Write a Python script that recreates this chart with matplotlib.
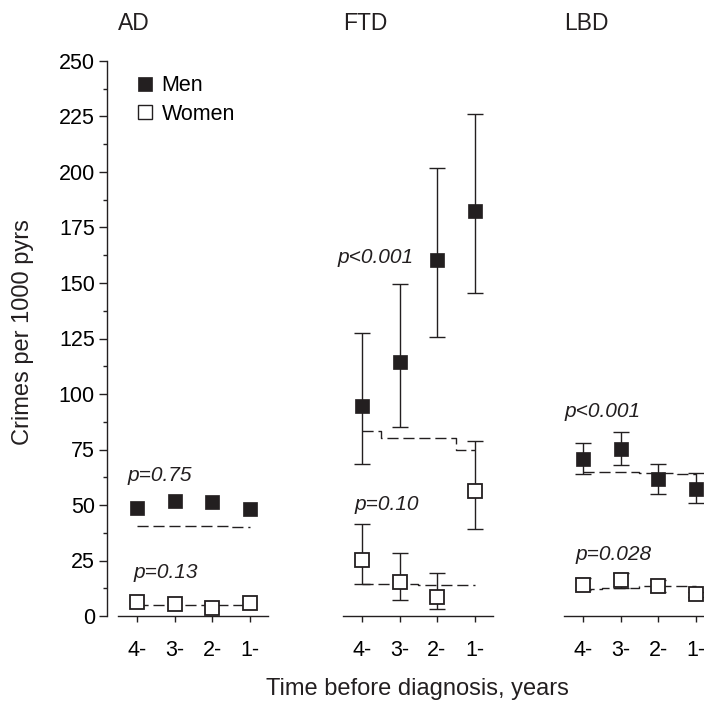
import matplotlib
matplotlib.use('Agg')
import matplotlib.pyplot as plt
from matplotlib.lines import Line2D
import numpy as np

plt.rcParams['font.family'] = ['Liberation Sans', 'DejaVu Sans']
plt.rcParams['font.size'] = 15.5

years = ['4-', '3-', '2-', '1-']
panels = ['AD', 'FTD', 'LBD']

# rates per 1000 person-years, with 95% CI where shown
men = {'AD': [48.5, 51.8, 51.2, 48.2],
       'FTD': [94.6, 114.3, 160.4, 182.4],
       'LBD': [70.7, 75.2, 61.6, 57.0]}
men_lo = {'AD': None,
          'FTD': [68.3, 85.3, 125.7, 145.4],
          'LBD': [64.0, 68.0, 55.0, 50.9]}
men_hi = {'AD': None,
          'FTD': [127.5, 149.5, 201.7, 226.0],
          'LBD': [78.0, 82.9, 68.3, 64.3]}
women = {'AD': [6.2, 5.4, 3.7, 5.7],
         'FTD': [25.2, 15.2, 8.4, 56.5],
         'LBD': [14.0, 16.2, 13.5, 9.8]}
women_lo = {'AD': None,
            'FTD': [14.3, 7.2, 3.0, 39.0],
            'LBD': [11.7, 12.5, 11.0, 8.5]}
women_hi = {'AD': None,
            'FTD': [41.3, 28.5, 19.5, 79.0],
            'LBD': [17.0, 19.5, 16.2, 11.0]}
# expected rates (dashed)
men_exp = {'AD': [40.5, 40.5, 40.5, 40.0],
           'FTD': [83.5, 80.0, 80.0, 75.0],
           'LBD': [65.0, 65.0, 64.5, 64.0]}
women_exp = {'AD': [4.8, 4.8, 4.8, 4.8],
             'FTD': [14.3, 14.3, 14.0, 13.8],
             'LBD': [12.0, 12.5, 13.5, 13.5]}
p_men = {'AD': 'p=0.75', 'FTD': 'p<0.001', 'LBD': 'p<0.001'}
p_women = {'AD': 'p=0.13', 'FTD': 'p=0.10', 'LBD': 'p=0.028'}

# text positions (data coords)
p_men_pos = {'AD': (-0.24, 63.5), 'FTD': (-0.64, 161.3), 'LBD': (-0.48, 92.3)}
p_women_pos = {'AD': (-0.1, 19.4), 'FTD': (-0.19, 50.0), 'LBD': (-0.19, 27.9)}

col = '#231f20'
W, H = 704, 703
fig = plt.figure(figsize=(W / 100, H / 100), dpi=100)

unit = 37.5
lefts = [137, 362, 583]
x0, x1 = -0.8, 3.6
ybot, ytop = 616, 61
x = np.arange(len(years))

for i, name in enumerate(panels):
    left_px = lefts[i] + x0 * unit
    ax = fig.add_axes([left_px / W, 1 - ybot / H, (x1 - x0) * unit / W, (ybot - ytop) / H])
    ax.set_xlim(x0, x1)
    ax.set_ylim(0, 250)
    ax.patch.set_alpha(0)
    for s in ['top', 'right']:
        ax.spines[s].set_visible(False)
    ax.spines['bottom'].set_bounds(-0.5, 3.5)
    ax.spines['bottom'].set_color(col)
    ax.spines['bottom'].set_linewidth(1.0)
    ax.set_xticks(x)
    ax.set_xticklabels(years)
    ax.tick_params(axis='x', direction='out', length=4.5, width=1.0, color=col, pad=13, labelsize=15.5)
    if i == 0:
        ax.spines['left'].set_color(col)
        ax.spines['left'].set_linewidth(1.0)
        ax.set_yticks(np.arange(0, 251, 25))
        ax.set_yticks(np.arange(12.5, 250, 25), minor=True)
        ax.tick_params(axis='y', which='major', direction='out', length=5.8, width=1.0, color=col, pad=3, labelsize=15.5)
        ax.tick_params(axis='y', which='minor', direction='out', length=3, width=1.0, color=col)
    else:
        ax.spines['left'].set_visible(False)
        ax.set_yticks([])

    ax.plot(x, men_exp[name], ls=(0, (8, 3.5)), lw=1.0, color=col, drawstyle='steps-mid', zorder=2)
    ax.plot(x, women_exp[name], ls=(0, (8, 3.5)), lw=1.0, color=col, drawstyle='steps-mid', zorder=2)

    if men_lo[name] is not None:
        m = np.array(men[name])
        err = [m - np.array(men_lo[name]), np.array(men_hi[name]) - m]
        ax.errorbar(x, m, yerr=err, fmt='none', ecolor=col, elinewidth=1.0, capsize=5.5, capthick=1.0, zorder=3)
        w = np.array(women[name])
        err = [w - np.array(women_lo[name]), np.array(women_hi[name]) - w]
        ax.errorbar(x, w, yerr=err, fmt='none', ecolor=col, elinewidth=1.0, capsize=5.5, capthick=1.0, zorder=3)

    ax.plot(x, men[name], ls='none', marker='s', ms=10.5, mfc=col, mec=col, mew=0.5, zorder=4, clip_on=False)
    ax.plot(x, women[name], ls='none', marker='s', ms=10, mfc='white', mec=col, mew=1.3, zorder=4, clip_on=False)

    ax.text(-0.5, 267, name, ha='left', va='center', fontsize=16.5, color=col)
    ax.text(*p_men_pos[name], p_men[name], ha='left', va='center', style='italic', fontsize=15, color=col)
    ax.text(*p_women_pos[name], p_women[name], ha='left', va='center', style='italic', fontsize=15, color=col)

    if i == 0:
        handles = [Line2D([], [], ls='none', marker='s', ms=10.5, mfc=col, mec=col, mew=0.5),
                   Line2D([], [], ls='none', marker='s', ms=10, mfc='white', mec=col, mew=1.0)]
        ax.legend(handles, ['Men', 'Women'], loc='upper left', bbox_to_anchor=(0.128, 0.99),
                  frameon=False, handlelength=0.75, handletextpad=0.4, labelspacing=0.35,
                  borderaxespad=0, fontsize=15.5)

fig.text(23 / W, 1 - 332 / H, 'Crimes per 1000 pyrs', rotation=90, ha='center', va='center', fontsize=17, color=col)
fig.text(417 / W, 1 - 689 / H, 'Time before diagnosis, years', ha='center', va='center', fontsize=17, color=col)

fig.savefig('out.png', dpi=100)
